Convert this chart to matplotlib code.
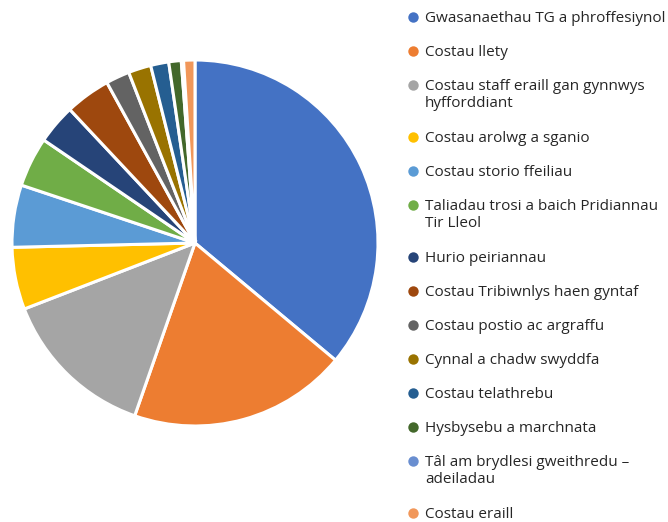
import matplotlib
matplotlib.use('Agg')
import matplotlib.pyplot as plt

#-----------------------------------------------------------------------------
## Data (share of costs)
#-----------------------------------------------------------------------------
labels = ['Gwasanaethau TG a phroffesiynol',
          'Costau llety',
          'Costau staff eraill gan gynnwys\nhyfforddiant',
          'Costau arolwg a sganio',
          'Costau storio ffeiliau',
          'Taliadau trosi a baich Pridiannau\nTir Lleol',
          'Hurio peiriannau',
          'Costau Tribiwnlys haen gyntaf',
          'Costau postio ac argraffu',
          'Cynnal a chadw swyddfa',
          'Costau telathrebu',
          'Hysbysebu a marchnata',
          'Tâl am brydlesi gweithredu –\nadeiladau',
          'Costau eraill']
values = [36.1, 19.3, 13.8, 5.5, 5.5, 4.4, 3.5, 4.0, 2.1, 2.0, 1.6, 1.1, 0.2, 1.0]
colors = ['#4472C4', '#ED7D31', '#A5A5A5', '#FFC000', '#5B9BD5', '#70AD47',
          '#264478', '#9E480E', '#636363', '#997300', '#255E91', '#43682B',
          '#698ED0', '#F1975A']

plt.rcParams['font.family'] = ['Open Sans', 'DejaVu Sans']

W, H = 668, 522
fig = plt.figure(figsize=(W/100, H/100), dpi=100)

#-----------------------------------------------------------------------------
## Pie
#-----------------------------------------------------------------------------
cx, cy, r = 195, 243, 183
ax = fig.add_axes([(cx-r)/W, (H-cy-r)/H, 2*r/W, 2*r/H])
ax.pie(values, colors=colors, startangle=90, counterclock=False,
       wedgeprops=dict(edgecolor='white', linewidth=2.2))
ax.set_xlim(-1, 1)
ax.set_ylim(-1, 1)

#-----------------------------------------------------------------------------
## Legend drawn by hand in pixel coordinates
#-----------------------------------------------------------------------------
lg = fig.add_axes([0, 0, 1, 1])
lg.set_xlim(0, W)
lg.set_ylim(H, 0)
lg.axis('off')
y = 17
for lab, c in zip(labels, colors):
    lg.plot(413, y, 'o', ms=7.5, color=c, mec='none')
    lg.text(425, y - 6, lab, fontsize=11, color='#262626', va='top',
            linespacing=1.15)
    y += 34 + 18*lab.count('\n')

plt.savefig('out.png', dpi=100, facecolor='w')
